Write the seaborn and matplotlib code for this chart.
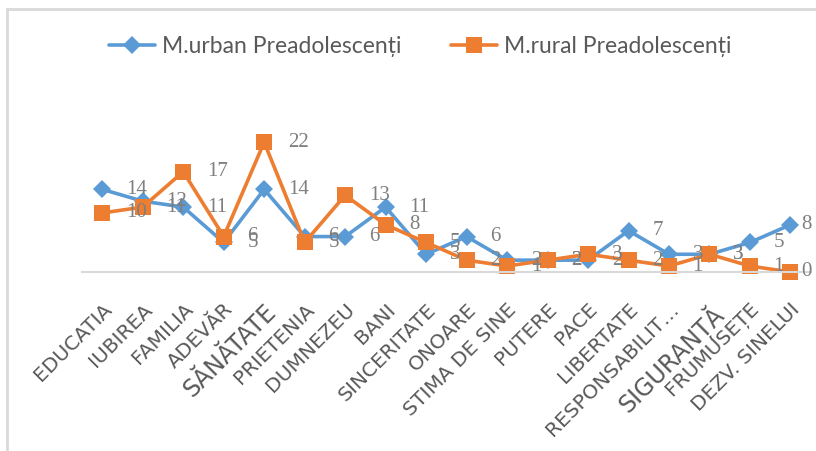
import pandas as pd
import matplotlib
matplotlib.use("Agg")
from matplotlib import pyplot as plt
from matplotlib.lines import Line2D
import seaborn as sns

# values
categories = ["EDUCATIA", "IUBIREA", "FAMILIA", "ADEVĂR", "SĂNĂTATE", "PRIETENIA",
              "DUMNEZEU", "BANI", "SINCERITATE", "ONOARE", "STIMA DE SINE", "PUTERE",
              "PACE", "LIBERTATE", "RESPONSABILIT…", "SIGURANȚĂ", "FRUMUSEȚE",
              "DEZV. SINELUI"]
urban = [14, 12, 11, 5, 14, 6, 6, 11, 3, 6, 2, 2, 2, 7, 3, 3, 5, 8]
rural = [10, 11, 17, 6, 22, 5, 13, 8, 5, 2, 1, 2, 3, 2, 1, 3, 1, 0]
series_names = ["M.urban Preadolescenți", "M.rural Preadolescenți"]

blue = "#5B9BD5"
orange = "#ED7D31"

df = pd.DataFrame({
    "cat": categories * 2,
    "val": urban + rural,
    "serie": [series_names[0]] * len(urban) + [series_names[1]] * len(rural),
})

sns.set_style("white")
plt.rcParams['font.family'] = ['DejaVu Sans']

fig = plt.figure(figsize=(8.16, 4.51), dpi=100)
ax = fig.add_axes([0.1005, 0.397, 0.893, 0.327])

sns.lineplot(data=df, x="cat", y="val", hue="serie", style="serie",
             palette={series_names[0]: blue, series_names[1]: orange},
             markers={series_names[0]: "D", series_names[1]: "s"},
             dashes=False, sort=False, linewidth=2.6, ax=ax, legend=False,
             markeredgewidth=0, clip_on=False)
for ln, ms in zip(ax.lines, [9, 11.5]):
    ln.set_markersize(ms)

# data labels, right of each point (last ones pulled in to stay inside the chart)
n = len(categories)
for vals in (urban, rural):
    for i, v in enumerate(vals):
        dx = 17 if i < n - 1 else 8
        ax.annotate(str(v), (i, v), xytext=(dx, 0), textcoords="offset points",
                    ha="left", va="center", fontsize=15, color="#7f7f7f",
                    family="Liberation Serif", zorder=10, annotation_clip=False)

ax.set_xlim(-0.5, n - 0.5)
ax.set_ylim(0, 25)
ax.set_xlabel("")
ax.set_ylabel("")
ax.set_yticks([])
for s in ["top", "right", "left"]:
    ax.spines[s].set_visible(False)
ax.spines["bottom"].set_color("#d9d9d9")
ax.spines["bottom"].set_linewidth(1.5)
ax.tick_params(axis="x", length=0, pad=20)
ax.set_xticks(range(n))
ax.set_xticklabels(categories, rotation=45, ha="right", rotation_mode="anchor",
                   fontsize=14.5, color="#595959", family="DejaVu Sans")
for t in ax.get_xticklabels():
    if t.get_text() in ("SĂNĂTATE", "SIGURANȚĂ"):
        t.set_fontsize(17)

handles = [
    Line2D([], [], color=blue, marker="D", markersize=9, linewidth=2.6, markeredgewidth=0),
    Line2D([], [], color=orange, marker="s", markersize=11.5, linewidth=2.6, markeredgewidth=0),
]
fig.legend(handles, series_names, loc="center", bbox_to_anchor=(0.515, 0.896),
           ncol=2, frameon=False, handlelength=2.0, handletextpad=0.3,
           columnspacing=2.2, prop={"family": "Lato", "size": 16.5},
           labelcolor="#595959")

# chart area border (top and left edges visible)
fig.add_artist(Line2D([7 / 816, 1], [1 - 9 / 451, 1 - 9 / 451], color="#d9d9d9",
                      linewidth=2, transform=fig.transFigure))
fig.add_artist(Line2D([7 / 816, 7 / 816], [0, 1 - 9 / 451], color="#d9d9d9",
                      linewidth=2, transform=fig.transFigure))

fig.savefig("out.png", dpi=100)
